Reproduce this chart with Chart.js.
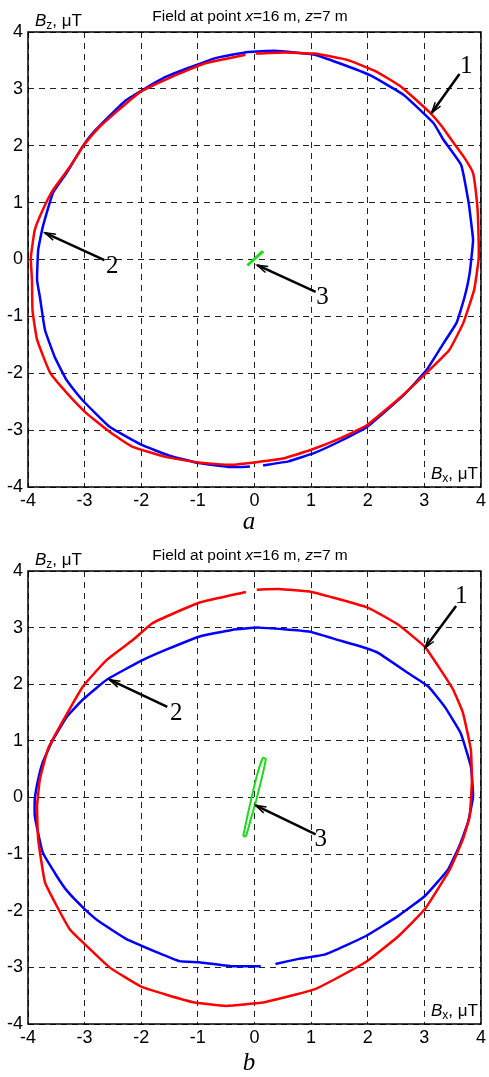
<!DOCTYPE html>
<html>
<head>
<meta charset="utf-8">
<script src="https://cdn.jsdelivr.net/npm/chart.js@4.4.1/dist/chart.umd.min.js"></script>
<style>
  body { margin: 0; background: #fff; width: 489px; height: 1077px; overflow: hidden; position: relative; }
  canvas { position: absolute; left: 0; }
</style>
</head>
<body>
<canvas id="chartA" width="489" height="540" style="top:0"></canvas>
<canvas id="chartB" width="489" height="537" style="top:540px"></canvas>
<script>
'use strict';

// axis ticks (both panels)
let tickVals = [-4, -3, -2, -1, 0, 1, 2, 3, 4];

// panel a: [Bx, Bz] in uT
let redA = [[0.02,3.62],[0.5,3.64],[1.06,3.62],[1.64,3.51],[2.16,3.30],[2.60,3.03],[3.09,2.59],[3.30,2.35],[3.48,2.10],
  [3.70,1.80],[3.86,1.52],[3.93,1.0],[3.95,0.64],[3.96,0.03],[3.88,-0.53],[3.69,-1.11],[3.44,-1.59],[3.04,-1.99],
  [2.57,-2.43],[1.99,-2.91],[1.50,-3.15],[0.99,-3.35],[0.50,-3.50],[0.06,-3.56],[-0.41,-3.61],[-0.99,-3.57],
  [-1.57,-3.47],[-2.16,-3.29],[-2.56,-3.03],[-2.97,-2.70],[-3.32,-2.34],[-3.61,-1.99],[-3.84,-1.41],[-3.92,-0.9],
  [-3.93,-0.36],[-3.95,0.03],[-3.88,0.52],[-3.74,0.87],[-3.56,1.22],[-3.26,1.63],[-3.00,2.03],[-2.74,2.33],
  [-2.04,2.93],[-1.46,3.21],[-0.87,3.45],[-0.16,3.60]];
let blueA = [[0.15,-3.62],[0.6,-3.55],[1.06,-3.40],[1.5,-3.2],[1.99,-2.94],[2.64,-2.38],[3.04,-1.94],[3.34,-1.47],
  [3.57,-1.11],[3.71,-0.66],[3.80,-0.24],[3.86,0.34],[3.82,0.7],[3.78,1.01],[3.65,1.66],[3.34,2.10],[3.16,2.40],
  [2.64,2.89],[2.04,3.24],[1.5,3.45],[1.06,3.60],[0.36,3.67],[-0.11,3.65],[-0.69,3.54],[-1.57,3.21],[-2.27,2.80],
  [-2.86,2.22],[-3.04,1.98],[-3.32,1.52],[-3.56,1.17],[-3.74,0.57],[-3.82,0.17],[-3.84,-0.36],[-3.79,-0.66],
  [-3.70,-1.24],[-3.53,-1.71],[-3.39,-1.99],[-3.32,-2.12],[-3.04,-2.47],[-2.56,-2.94],[-1.99,-3.26],[-1.5,-3.45],
  [-0.99,-3.58],[-0.41,-3.65],[-0.08,-3.64]];
let greenA = [[-0.12,-0.11],[0.0,0.0],[0.15,0.13],[0.13,0.14],[0.0,0.02],[-0.13,-0.10]];

// panel b
let redB = [[0.04,3.67],[0.43,3.68],[1.01,3.63],[1.5,3.5],[2.01,3.35],[2.54,3.05],[3.01,2.66],[3.29,2.25],[3.50,1.92],
  [3.68,1.50],[3.82,0.85],[3.84,0.3],[3.80,-0.33],[3.68,-0.74],[3.45,-1.27],[3.01,-1.97],[2.54,-2.45],[1.96,-2.91],
  [1.08,-3.38],[0.20,-3.61],[-0.50,-3.68],[-1.10,-3.61],[-1.98,-3.35],[-2.56,-3.0],[-3.03,-2.56],[-3.26,-2.33],
  [-3.49,-1.92],[-3.70,-1.50],[-3.82,-0.74],[-3.84,-0.16],[-3.79,0.32],[-3.65,0.85],[-3.44,1.25],[-3.03,1.96],
  [-2.61,2.43],[-2.15,2.78],[-1.80,3.08],[-0.98,3.44],[-0.15,3.63]];
let blueB = [[0.37,-2.94],[0.78,-2.85],[1.25,-2.77],[1.96,-2.45],[2.54,-2.09],[3.01,-1.74],[3.42,-1.27],[3.62,-0.85],
  [3.77,-0.44],[3.86,0.02],[3.82,0.55],[3.64,1.14],[3.36,1.60],[3.07,1.96],[2.71,2.20],[2.19,2.55],[1.96,2.64],
  [1.48,2.78],[0.96,2.93],[0.08,3.0],[-0.40,2.96],[-0.98,2.84],[-1.56,2.61],[-2.03,2.40],[-2.61,2.08],[-3.03,1.73],
  [-3.31,1.43],[-3.56,1.02],[-3.74,0.62],[-3.82,0.32],[-3.88,-0.03],[-3.88,-0.33],[-3.74,-0.97],[-3.49,-1.39],
  [-3.31,-1.65],[-3.00,-1.97],[-2.73,-2.20],[-2.26,-2.50],[-1.73,-2.73],[-1.33,-2.89],[-0.98,-2.91],[-0.40,-2.98],
  [0.11,-2.98]];
let greenB = [[-0.20,-0.69],[-0.13,-0.35],[-0.04,0.05],[0.06,0.45],[0.15,0.70],[0.20,0.68],[0.13,0.35],[0.03,-0.05],
  [-0.07,-0.40],[-0.15,-0.68],[-0.20,-0.69]];

// curve number callouts: [label, textX, textY, tailX, tailY, headX, headY] in data units
let notesA = [['1', 3.74, 3.28, 3.62, 3.26, 3.13, 2.58],
  ['2', -2.51, -0.24, -2.65, -0.01, -3.70, 0.47],
  ['3', 1.20, -0.78, 1.08, -0.57, 0.05, -0.10]];
let notesB = [['1', 3.65, 3.44, 3.56, 3.38, 3.01, 2.64],
  ['2', -1.38, 1.37, -1.54, 1.60, -2.56, 2.08],
  ['3', 1.17, -0.85, 1.08, -0.65, 0.02, -0.14]];

const SANS = '"Liberation Sans", Arial, sans-serif';
const SERIF = '"Liberation Serif", "Times New Roman", serif';

function toPts(arr) {
  return arr.map(p => ({ x: p[0], y: p[1] }));
}

function drawRuns(ctx, runs, x, y, align) {
  let total = 0;
  runs.forEach(r => { ctx.font = r.font; total += ctx.measureText(r.t).width; });
  let cx = align === 'center' ? x - total / 2 : x;
  ctx.textAlign = 'left';
  ctx.textBaseline = 'alphabetic';
  runs.forEach(r => {
    ctx.font = r.font;
    ctx.fillText(r.t, cx, y + (r.dy || 0));
    cx += ctx.measureText(r.t).width;
  });
}

const overlay = {
  id: 'overlay',
  afterDraw(chart) {
    const o = chart.options.plugins.overlay;
    const ctx = chart.ctx;
    const a = chart.chartArea;
    const sx = chart.scales.x, sy = chart.scales.y;
    ctx.save();
    ctx.fillStyle = '#000';
    ctx.strokeStyle = '#000';

    // frame
    ctx.lineWidth = 1.5;
    ctx.strokeRect(a.left, a.top, a.right - a.left, a.bottom - a.top);

    // axis names and title
    drawRuns(ctx, [
      { t: 'B', font: 'italic 17px ' + SANS },
      { t: 'z', font: '12px ' + SANS, dy: 3 },
      { t: ', \u03bcT', font: '17px ' + SANS }
    ], 35, a.top - 6, 'left');
    drawRuns(ctx, [
      { t: 'Field at point ', font: '15.5px ' + SANS },
      { t: 'x', font: 'italic 15.5px ' + SANS },
      { t: '=16 m, ', font: '15.5px ' + SANS },
      { t: 'z', font: 'italic 15.5px ' + SANS },
      { t: '=7 m', font: '15.5px ' + SANS }
    ], 250, a.top - 11, 'center');
    drawRuns(ctx, [
      { t: 'B', font: 'italic 17px ' + SANS },
      { t: 'x', font: '12px ' + SANS, dy: 3 },
      { t: ', \u03bcT', font: '17px ' + SANS }
    ], 431, a.bottom - 8, 'left');

    // callouts
    o.notes.forEach(n => {
      const tx = sx.getPixelForValue(n[1]), ty = sy.getPixelForValue(n[2]);
      const x0 = sx.getPixelForValue(n[3]), y0 = sy.getPixelForValue(n[4]);
      const x1 = sx.getPixelForValue(n[5]), y1 = sy.getPixelForValue(n[6]);
      ctx.lineWidth = 2.5;
      ctx.beginPath();
      ctx.moveTo(x0, y0);
      ctx.lineTo(x1, y1);
      ctx.stroke();
      const ang = Math.atan2(y1 - y0, x1 - x0);
      ctx.lineWidth = 1.5;
      ctx.beginPath();
      ctx.moveTo(x1 - 11 * Math.cos(ang - 0.3), y1 - 11 * Math.sin(ang - 0.3));
      ctx.lineTo(x1, y1);
      ctx.lineTo(x1 - 11 * Math.cos(ang + 0.3), y1 - 11 * Math.sin(ang + 0.3));
      ctx.stroke();
      ctx.font = '25px ' + SERIF;
      ctx.textAlign = 'center';
      ctx.textBaseline = 'alphabetic';
      ctx.fillText(n[0], tx, ty);
    });

    // panel letter
    ctx.font = 'italic 25px ' + SERIF;
    ctx.textAlign = 'center';
    ctx.fillText(o.letter, 249, a.bottom + o.letterGap);
    ctx.restore();
  }
};

function makeChart(id, red, blue, green, notes, letter, letterGap, padTop, padRight) {
  const axis = (isX) => ({
    type: 'linear',
    min: -4,
    max: 4,
    afterBuildTicks(scale) { scale.ticks = tickVals.map(v => ({ value: v })); },
    afterFit(scale) {
      if (isX) scale.height = 33; else scale.width = 28;
    },
    grid: { color: '#222', lineWidth: 1, drawTicks: false, tickLength: 0 },
    border: { display: false, dash: [6, 5] },
    ticks: {
      color: '#000',
      font: { family: SANS, size: 18 },
      padding: isX ? 3 : 5,
      maxRotation: 0,
      autoSkip: false
    }
  });
  const line = (pts, col, w) => ({
    data: toPts(pts),
    borderColor: col,
    backgroundColor: col,
    borderWidth: w,
    showLine: true,
    pointRadius: 0,
    tension: 0.12
  });
  return new Chart(document.getElementById(id), {
    type: 'scatter',
    data: {
      datasets: [line(green, '#1bdc1b', 2), line(red, '#ff0000', 2.5), line(blue, '#0000ff', 2.5)]
    },
    options: {
      responsive: false,
      animation: false,
      layout: { autoPadding: false, padding: { left: 0, right: padRight, top: padTop, bottom: 20 } },
      scales: { x: axis(true), y: axis(false) },
      plugins: {
        legend: { display: false },
        tooltip: { enabled: false },
        overlay: { notes: notes, letter: letter, letterGap: letterGap }
      }
    },
    plugins: [overlay]
  });
}

makeChart('chartA', redA, blueA, greenA, notesA, 'a', 42, 32, 4);
makeChart('chartB', redB, blueB, greenB, notesB, 'b', 46, 31, 6);
</script>
</body>
</html>
